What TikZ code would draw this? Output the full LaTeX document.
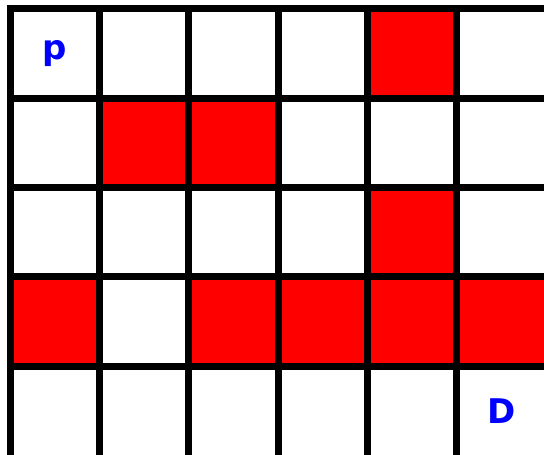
\documentclass[tikz,border=0pt]{standalone}
\usepackage{fontspec}
\setmainfont{DejaVu Sans}
\begin{document}
\begin{tikzpicture}[x=1pt,y=-1pt,
  cellfill/.style={fill={rgb,255:red,255;green,0;blue,0}},
  gridline/.style={line width=7pt, line cap=rect, black},
  lbl/.style={text={rgb,255:red,0;green,0;blue,255}, font=\fontsize{34}{40}\selectfont\bfseries, inner sep=0pt}]
\useasboundingbox (0,0) rectangle (544,455);
\clip (0,0) rectangle (544,455);
\def\s{89.35}
\def\xo{10}
\def\yo{8.7}
% red cells: (row,col)
\foreach \r/\c in {0/4, 1/1, 1/2, 2/4, 3/0, 3/2, 3/3, 3/4, 3/5}{
  \fill[cellfill] ({\xo+\c*\s},{\yo+\r*\s}) rectangle ({\xo+(\c+1)*\s},{\yo+(\r+1)*\s});
}
% grid lines (outer right and bottom borders fall outside the picture)
\foreach \i in {0,...,5}{
  \draw[gridline] ({\xo+\i*\s},{\yo}) -- ({\xo+\i*\s},{\yo+5*\s});
}
\foreach \j in {0,...,4}{
  \draw[gridline] ({\xo},{\yo+\j*\s}) -- ({\xo+6*\s},{\yo+\j*\s});
}
\node[lbl] (p) at ({\xo+0.5*\s},{\yo+0.5*\s}) {p};
\node[lbl] (D) at ({\xo+5.5*\s},{\yo+4.5*\s}) {D};
\end{tikzpicture}
\end{document}
